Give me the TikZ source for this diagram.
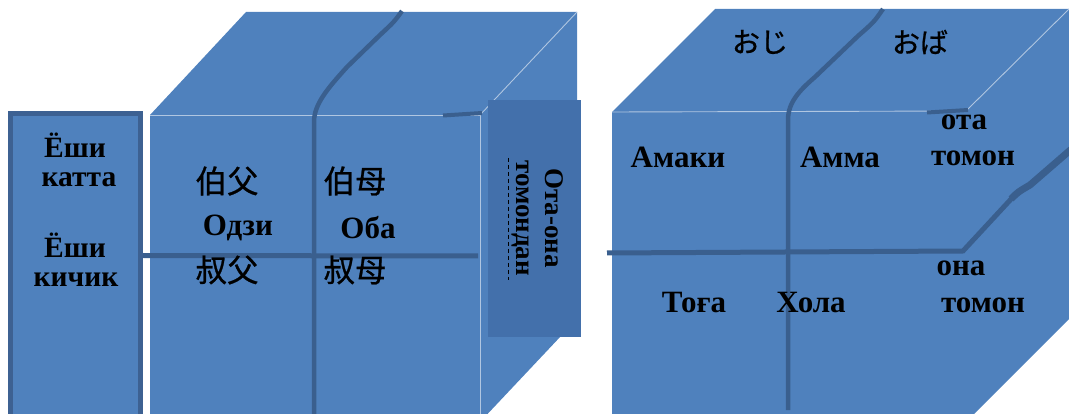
\documentclass[tikz,border=0pt]{standalone}
\usepackage{fontspec}
\setmainfont{Liberation Serif}
\newfontfamily\zhfont{Noto Sans CJK SC}[FakeBold=0.8]
\newfontfamily\jafont{Noto Sans CJK JP}[FakeBold=0.8]
\definecolor{cubefill}{HTML}{4F81BD}
\definecolor{cubeline}{HTML}{3A5F8E}
\definecolor{labelfill}{HTML}{4370AB}
\definecolor{boxline}{HTML}{3D6192}
\begin{document}
\begin{tikzpicture}[x=1pt,y=-1pt,
  ridge/.style={draw=white!55!cubefill, line width=0.9pt},
  split/.style={draw=cubeline, line width=5pt},
  ru/.style={font=\bfseries\fontsize{31}{33}\selectfont, text=black, inner sep=0pt, align=center},
  rubox/.style={ru, font=\bfseries\fontsize{29.5}{31}\selectfont},
  zh/.style={font=\zhfont\fontsize{31.5}{33}\selectfont, text=black, inner sep=0pt},
  ja/.style={font=\jafont\fontsize{28}{30}\selectfont, text=black, inner sep=0pt}]
\useasboundingbox (0,0) rectangle (1069,414);
\begin{scope}
\clip (0,0) rectangle (1069,414);
% ---------- left box
\draw[line width=5pt, draw=boxline, fill=cubefill] (10.5,114) rectangle (140.5,440);
% ---------- cube 1
\fill[cubefill] (150,115) -- (246,12) -- (577,12) -- (577,319) -- (480,422) -- (150,422) -- cycle;
\draw[ridge] (150,115) -- (480,115) -- (480,422);
\draw[ridge] (480,115) -- (577,12);
\draw[split] (143,255.5) -- (478,256);
\draw[split, line width=4.5pt] (314,420) -- (314,122) .. controls (314,104) and (328,88) .. (347,67) -- (380,35) .. controls (394,22) .. (402,11);
\draw[split, line width=4pt] (443,115.5) -- (482,113);
% side label
\fill[labelfill] (488,100) rectangle (581,337);
\node[ru, rotate=-90, font=\bfseries\fontsize{27}{29}\selectfont] (side) at (538,218) {Ота-она\\томондан};
\coordinate (dashA) at (508,158);
\coordinate (dashB) at (508,280);
\draw[black, line width=0.6pt, dash pattern=on 4pt off 3pt] (dashA) -- (dashB);
% ---------- cube 2
\fill[cubefill] (612,112) -- (715,9) -- (1070,9) -- (1070,318) -- (966,422) -- (612,422) -- cycle;
\draw[ridge] (612,112) -- (966,111);
\draw[ridge] (966,111) -- (1069,9);
\draw[split] (607,253) -- (963,251) -- (1013,197);
\draw[split, line width=7pt] (1011,199) .. controls (1018,192) .. (1030,185) -- (1075,146);
\draw[split, line width=4.5pt] (788,410) -- (788,120) .. controls (788,102) and (800,90) .. (815,77) -- (858,36) .. controls (874,22) .. (883,9);
\draw[split, line width=4pt] (927,112.5) -- (968,110);
\end{scope}
% ---------- texts left box
\node[rubox] (e1) at (75,145) {Ёши};
\node[rubox] (k1) at (79,180) {катта};
\node[rubox] (e2) at (75,245) {Ёши};
\node[rubox] (k2) at (76,280) {кичик};
% ---------- texts cube 1
\node[zh] (bofu) at (227,181) {伯父};
\node[zh] (bomu) at (355,181) {伯母};
\node[ru] (odzi) at (238,228) {Одзи};
\node[ru] (oba) at (368,228) {Оба};
\node[zh] (shufu) at (227,270) {叔父};
\node[zh] (shumu) at (355,270) {叔母};
% ---------- texts cube 2
\node[ja] (oji) at (760,42) {おじ};
\node[ja] (oba2) at (920,42) {おば};
\node[ru] (amaki) at (678,157) {Амаки};
\node[ru] (amma) at (840,157) {Амма};
\node[ru] (ota) at (964,122) {ота};
\node[ru] (tomon1) at (973,158) {томон};
\node[ru] (ona) at (961,268) {она};
\node[ru] (tomon2) at (983,305) {томон};
\node[ru] (toga) at (694,303) {Тоға};
\node[ru] (hola) at (811,303) {Хола};
\end{tikzpicture}
\end{document}
